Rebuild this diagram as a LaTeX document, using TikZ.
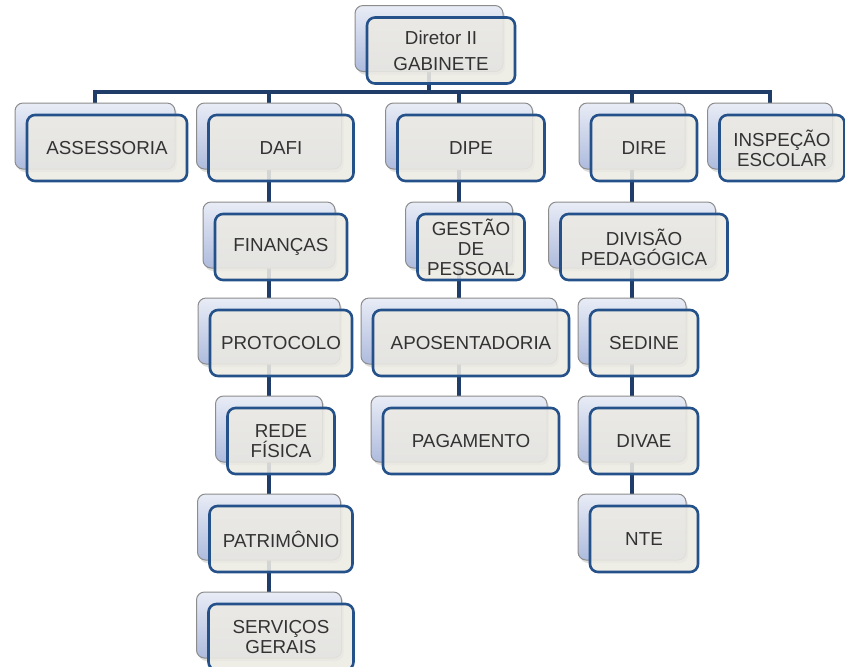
\documentclass[tikz,border=0pt]{standalone}
\usepackage{fontspec}
\setmainfont{Liberation Sans}
\usetikzlibrary{backgrounds,shadows}
\definecolor{linkblue}{HTML}{1F3D68}
\definecolor{frontline}{HTML}{24518A}
\definecolor{frontfill}{HTML}{ECEAE3}
\definecolor{backtop}{HTML}{E8ECF6}
\definecolor{backbot}{HTML}{AEBBDD}
\definecolor{backline}{HTML}{8C8C8C}
\tikzset{
  backbox/.style={rectangle, rounded corners=4pt, draw=backline, line width=0.5pt,
    top color=backtop, bottom color=backbot, minimum height=33pt, inner sep=0pt,
    drop shadow={opacity=0.25, shadow xshift=1pt, shadow yshift=-1.5pt}},
  frontbox/.style={rectangle, rounded corners=4pt, draw=frontline, line width=1.3pt,
    fill=frontfill, fill opacity=0.88, text opacity=1, minimum height=33pt, inner sep=0pt,
    align=center, font=\fontsize{9.4}{10}\selectfont, text=black!80},
  link/.style={draw=linkblue, line width=2pt},
}
% name, x, y (back box centre), width, text
\newcommand{\orgbox}[5]{%
  \node[backbox, minimum width=#4*0.5pt] (#1b) at (#2,#3) {};
  \node[frontbox, minimum width=#4*0.5pt] (#1) at ([shift={(12,12)}]#1b) {#5};}

\begin{document}
\begin{tikzpicture}[x=0.5pt, y=-0.5pt]
    \useasboundingbox (0,0) rectangle (845,666);
    \orgbox{dir}{429}{38.5}{148}{Diretor II\\[3pt]GABINETE}
    \orgbox{ass}{95}{136}{160}{ASSESSORIA}
    \orgbox{dafi}{269}{136}{145}{DAFI}
    \orgbox{dipe}{459}{136}{147}{DIPE}
    \orgbox{dire}{632}{136}{106}{DIRE}
    \orgbox{insp}{770}{136}{125}{INSPEÇÃO\\ESCOLAR}
    \orgbox{fin}{269}{235}{132}{FINANÇAS}
    \orgbox{gest}{459}{235}{107}{GESTÃO\\DE\\PESSOAL}
    \orgbox{divp}{632}{235}{167}{DIVISÃO\\PEDAGÓGICA}
    \orgbox{prot}{269}{331}{142}{PROTOCOLO}
    \orgbox{apos}{459}{331}{196}{APOSENTADORIA}
    \orgbox{sed}{632}{331}{108}{SEDINE}
    \orgbox{rede}{269}{429}{107}{REDE\\FÍSICA}
    \orgbox{pag}{459}{429}{176}{PAGAMENTO}
    \orgbox{divae}{632}{429}{108}{DIVAE}
    \orgbox{pat}{269}{527}{143}{PATRIMÔNIO}
    \orgbox{nte}{632}{527}{108}{NTE}
    \orgbox{serv}{269}{625}{145}{SERVIÇOS\\GERAIS}
    \coordinate (bus) at (0,92);
    \begin{scope}[on background layer]
    \draw[link] (dirb) -- (dirb |- bus);
    \draw[link] (assb.north) |- (bus -| inspb) -- (inspb.north);
    \draw[link] (dafib.north) -- (dafib |- bus);
    \draw[link] (dipeb.north) -- (dipeb |- bus);
    \draw[link] (direb.north) -- (direb |- bus);
    \draw[link] (dafib) -- (servb);
    \draw[link] (dipeb) -- (pagb);
    \draw[link] (direb) -- (nteb);
    \end{scope}
\end{tikzpicture}
\end{document}
